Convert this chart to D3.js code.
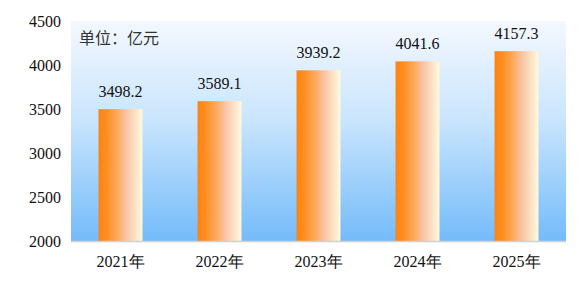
<!DOCTYPE html>
<html><head><meta charset="utf-8">
<script src="https://cdn.jsdelivr.net/npm/d3@7/dist/d3.min.js"></script>
<style>body{margin:0;background:#fff;}svg{display:block;}</style>
</head><body>
<svg id="c" width="587" height="283"></svg>
<script>
const categories = ["2021年","2022年","2023年","2024年","2025年"];
const values = [3498.2, 3589.1, 3939.2, 4041.6, 4157.3];
const valueLabels = ["3498.2","3589.1","3939.2","4041.6","4157.3"];
const yTicks = [2000,2500,3000,3500,4000,4500];
const unitLabel = "单位：亿元";

(function(){
const SERIF = "Liberation Serif";
const svg = d3.select("#c");
const mLeft = 71, mRight = 566, mTop = 21, mBottom = 241;
const x = d3.scaleBand().domain(categories).range([mLeft, mRight]).paddingInner(0.556).paddingOuter(0.278);
const y = d3.scaleLinear().domain([2000, 4500]).range([mBottom, mTop]);

const defs = svg.append("defs");
const bg = defs.append("linearGradient").attr("id","bg").attr("x1",0).attr("y1",0).attr("x2",0).attr("y2",1);
bg.append("stop").attr("offset","0%").attr("stop-color","#f4f8fe");
bg.append("stop").attr("offset","45%").attr("stop-color","#c9e5fd");
bg.append("stop").attr("offset","100%").attr("stop-color","#74bbfa");
const bar = defs.append("linearGradient").attr("id","bar").attr("x1",0).attr("y1",0).attr("x2",1).attr("y2",0);
bar.append("stop").attr("offset","0%").attr("stop-color","#fe830f");
bar.append("stop").attr("offset","18%").attr("stop-color","#fe8e22");
bar.append("stop").attr("offset","45%").attr("stop-color","#fdac62");
bar.append("stop").attr("offset","62%").attr("stop-color","#f9c3a3");
bar.append("stop").attr("offset","100%").attr("stop-color","#fffadf");

svg.append("rect").attr("x", mLeft).attr("y", y(4500)).attr("width", mRight-mLeft).attr("height", y(2000)-y(4500)).attr("fill","url(#bg)");

svg.append("g").selectAll("rect").data(values).join("rect")
  .attr("x",(d,i)=>x(categories[i])).attr("width",x.bandwidth())
  .attr("y",d=>y(d)).attr("height",d=>y(2000)-y(d)).attr("fill","url(#bar)");

svg.append("line").attr("x1",mLeft).attr("x2",mRight).attr("y1",mBottom+0.5).attr("y2",mBottom+0.5).attr("stroke","#d0d0d0").attr("stroke-width",1.5);

const yAxis = svg.append("g").attr("transform",`translate(${mLeft},0)`)
  .call(d3.axisLeft(y).tickValues(yTicks).tickSize(0).tickPadding(10).tickFormat(d3.format("d")));
yAxis.select(".domain").remove();
yAxis.selectAll("text").style("font-family",SERIF).style("font-size","16px").attr("fill","#111").attr("dy","0.35em");

const xAxis = svg.append("g").attr("transform",`translate(0,${mBottom})`)
  .call(d3.axisBottom(x).tickSize(0).tickPadding(15));
xAxis.select(".domain").remove();
xAxis.selectAll("text").style("font-family",SERIF).style("font-size","16px").attr("fill","#111");

svg.append("g").selectAll("text").data(values).join("text")
  .attr("x",(d,i)=>x(categories[i])+x.bandwidth()/2).attr("y",d=>y(d)-12)
  .attr("text-anchor","middle").style("font-family",SERIF).style("font-size","16px").attr("fill","#111")
  .text((d,i)=>valueLabels[i]);

svg.append("text").attr("x",79).attr("y",44).style("font-family","Noto Sans CJK SC").style("font-size","16px").attr("fill","#333").text(unitLabel);
})();
</script>
</body></html>
